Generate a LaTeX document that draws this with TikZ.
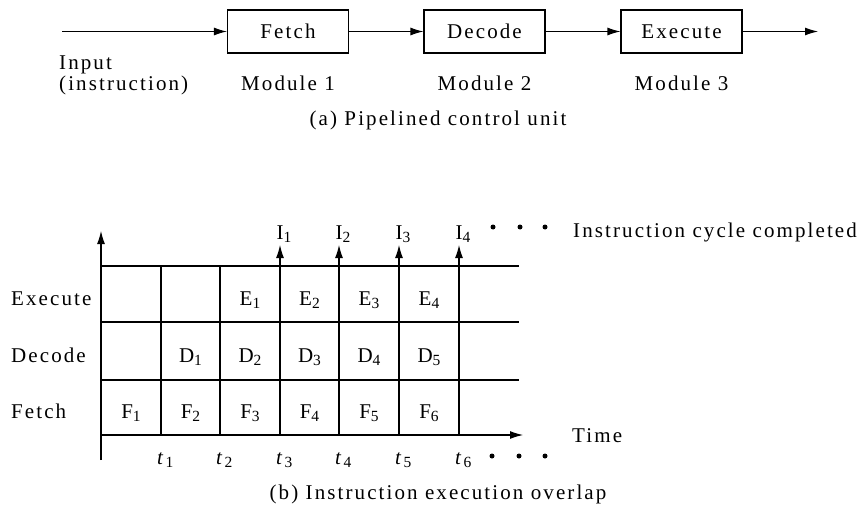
\documentclass[tikz,border=0pt]{standalone}
\usepackage{fontspec}
\setmainfont{Liberation Serif}[LetterSpace=10]
\usetikzlibrary{arrows.meta}
\newcommand\lsub[1]{\raisebox{-3.5pt}{\fontsize{15.5}{15.5}\selectfont #1}}
\tikzset{
  ln/.style={line width=1.1pt},
  arr/.style={ln,-{Latex[length=13pt,width=8pt]}},
  blockbox/.style={draw,ln,minimum width=121pt,minimum height=43pt,inner sep=0pt},
  lbl/.style={inner sep=0pt,anchor=base},
  lblw/.style={inner sep=0pt,anchor=base west},
  dotmark/.style={fill,circle,inner sep=0pt,minimum size=5pt}
}
\begin{document}
\begin{tikzpicture}[x=1pt,y=-1pt,font=\fontsize{21}{25}\selectfont]
\useasboundingbox (0,0) rectangle (866,513);
% ---------- (a) ----------
\coordinate (inA) at (62,31.5);
\coordinate (outA) at (818,31.5);
\node[blockbox] (fetch) at (288,31.5) {Fetch};
\node[blockbox] (decode) at (484.5,31.5) {Decode};
\node[blockbox] (execute) at (681.5,31.5) {Execute};
\draw[arr] (inA) -- (fetch.west);
\draw[arr] (fetch.east) -- (decode.west);
\draw[arr] (decode.east) -- (execute.west);
\draw[arr] (execute.east) -- (outA);
\node[lblw] (inputlbl) at (59,70) {Input};
\node[lblw] (instrlbl) at (59,91) {(instruction)};
\node[lbl] (mod1) at (288,91) {Module 1};
\node[lbl] (mod2) at (484.5,91) {Module 2};
\node[lbl] (mod3) at (681.5,91) {Module 3};
\node[lbl] (capa) at (438,126) {(a) Pipelined control unit};
% ---------- (b) ----------
\coordinate (vbot) at (101,460);
\coordinate (vtop) at (101,231);
\coordinate (orig) at (101,435);
\coordinate (htip) at (523,435);
\draw[arr] (vbot) -- (vtop);
\draw[arr] (orig) -- (htip);
\foreach \y/\n in {266/r0,322/r1,380/r2}{
  \coordinate (\n l) at (101,\y);
  \coordinate (\n r) at (519,\y);
  \draw[ln] (\n l) -- (\n r);
}
\foreach \x/\n in {161/c1,220/c2}{
  \coordinate (\n t) at (\x,266);
  \coordinate (\n b) at (\x,435);
  \draw[ln] (\n b) -- (\n t);
}
\foreach \x/\n in {280/a3,339/a4,399/a5,459/a6}{
  \coordinate (\n b) at (\x,435);
  \coordinate (\n t) at (\x,245);
  \draw[arr] (\n b) -- (\n t);
}
% I labels
\node[lblw] (i1) at (276.5,239) {I\lsub{1}};
\node[lblw] (i2) at (335.5,239) {I\lsub{2}};
\node[lblw] (i3) at (395.5,239) {I\lsub{3}};
\node[lblw] (i4) at (455.5,239) {I\lsub{4}};
\node[dotmark] (d1) at (493,227) {};
\node[dotmark] (d2) at (520,227) {};
\node[dotmark] (d3) at (545,227) {};
\node[lblw] (icc) at (573,237) {Instruction cycle completed};
% row labels
\node[lblw] (rex) at (11,305) {Execute};
\node[lblw] (rde) at (11,362) {Decode};
\node[lblw] (rfe) at (11,418) {Fetch};
% cells
\node[lbl] (e1) at (250,305) {E\lsub{1}};
\node[lbl] (e2) at (309.5,305) {E\lsub{2}};
\node[lbl] (e3) at (369,305) {E\lsub{3}};
\node[lbl] (e4) at (429,305) {E\lsub{4}};
\node[lbl] (dd1) at (190.5,362) {D\lsub{1}};
\node[lbl] (dd2) at (250,362) {D\lsub{2}};
\node[lbl] (dd3) at (309.5,362) {D\lsub{3}};
\node[lbl] (dd4) at (369,362) {D\lsub{4}};
\node[lbl] (dd5) at (429,362) {D\lsub{5}};
\node[lbl] (f1) at (131,418) {F\lsub{1}};
\node[lbl] (f2) at (190.5,418) {F\lsub{2}};
\node[lbl] (f3) at (250,418) {F\lsub{3}};
\node[lbl] (f4) at (309.5,418) {F\lsub{4}};
\node[lbl] (f5) at (369,418) {F\lsub{5}};
\node[lbl] (f6) at (429,418) {F\lsub{6}};
% time labels
\node[lblw] (t1) at (157,464) {\textit{t}\lsub{1}};
\node[lblw] (t2) at (216,464) {\textit{t}\lsub{2}};
\node[lblw] (t3) at (276,464) {\textit{t}\lsub{3}};
\node[lblw] (t4) at (335,464) {\textit{t}\lsub{4}};
\node[lblw] (t5) at (395,464) {\textit{t}\lsub{5}};
\node[lblw] (t6) at (455,464) {\textit{t}\lsub{6}};
\node[dotmark] (d4) at (492,456) {};
\node[dotmark] (d5) at (519,456) {};
\node[dotmark] (d6) at (545,456) {};
\node[lblw] (timelbl) at (572,442) {Time};
\node[lbl] (capb) at (438,499) {(b) Instruction execution overlap};
\end{tikzpicture}
\end{document}
